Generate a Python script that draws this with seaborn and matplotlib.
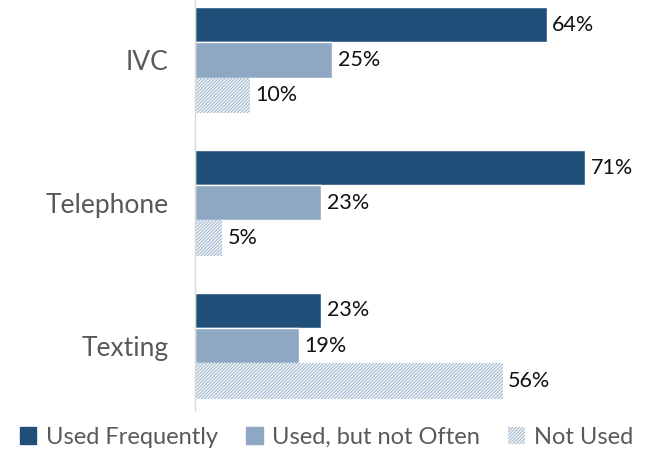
import matplotlib
matplotlib.use("Agg")
import matplotlib.pyplot as plt
import seaborn as sns
import pandas as pd
from matplotlib.patches import Patch

categories = ["IVC", "Telephone", "Texting"]
series = ["Used Frequently", "Used, but not Often", "Not Used"]
used_frequently = [64, 71, 23]
used_not_often = [25, 23, 19]
not_used = [10, 5, 56]

sns.set_style("white")
plt.rcParams['font.family'] = ['Lato', 'DejaVu Sans']
plt.rcParams['hatch.linewidth'] = 0.7

rows = []
for s, vals in zip(series, [used_frequently, used_not_often, not_used]):
    for c, v in zip(categories, vals):
        rows.append({"cat": c, "series": s, "value": v})
df = pd.DataFrame(rows)

dark = "#1F4E79"
mid = "#8EA8C3"
light = "#9FB5CB"
HATCH = "//////////"

fig = plt.figure(figsize=(6.47, 4.53), dpi=100)
ax = fig.add_axes([0.301, 0.095, 0.68, 0.905])
sns.barplot(data=df, y="cat", x="value", hue="series", orient="h",
            palette=[dark, mid, light], width=0.74, ax=ax, legend=False,
            saturation=1)

for bar in ax.containers[2]:
    bar.set_facecolor("#F4F7FA")
    bar.set_edgecolor(light)
    bar.set_linewidth(0)
    bar.set_hatch(HATCH)

for cont in ax.containers:
    ax.bar_label(cont, labels=[f"{int(round(b.get_width()))}%" for b in cont],
                 padding=4, fontsize=15.5, color="#111111")

ax.set_xlim(0, 80)
ax.set_ylim(2.45, -0.42)
ax.set_xlabel("")
ax.set_ylabel("")
ax.set_xticks([])
ax.tick_params(axis="y", length=0, pad=19, labelsize=19, labelcolor="#595959")
for side in ["top", "right", "bottom"]:
    ax.spines[side].set_visible(False)
ax.spines["left"].set_color("#D9D9D9")
ax.spines["left"].set_linewidth(1)

handles = [Patch(facecolor=dark, edgecolor=dark),
           Patch(facecolor=mid, edgecolor=mid),
           Patch(facecolor="#F4F7FA", edgecolor=light, hatch=HATCH, linewidth=0)]
fig.legend(handles, series, loc="center", bbox_to_anchor=(0.505, 0.035),
           ncol=3, frameon=False, fontsize=17, labelcolor="#595959",
           handlelength=0.7, handleheight=0.7, handletextpad=0.4,
           columnspacing=1.2)

fig.savefig("out.png", dpi=100)
